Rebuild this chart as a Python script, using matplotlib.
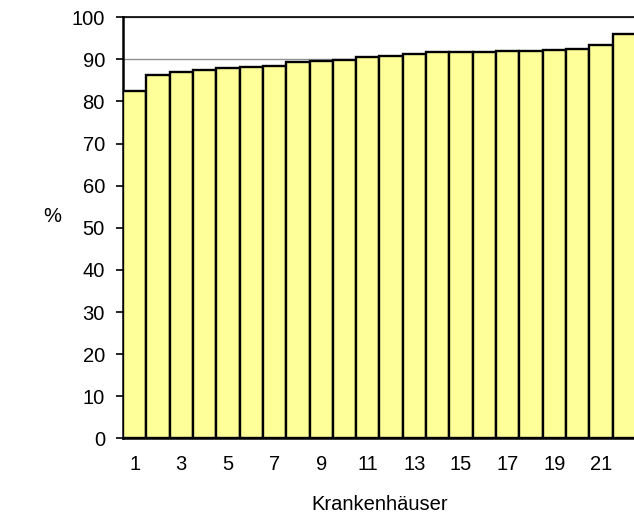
import matplotlib.pyplot as plt
import numpy as np

# Values (percent per hospital, sorted)
hospitals = list(range(1, 23))
values = [82.5, 86.3, 86.9, 87.5, 88.0, 88.1, 88.4, 89.3, 89.7, 89.9, 90.6,
          90.7, 91.2, 91.7, 91.7, 91.8, 91.9, 91.9, 92.2, 92.4, 93.3, 96.0]
tick_labels = [str(h) for h in hospitals[::2]]
y_ticks = list(range(0, 101, 10))

plt.rcParams['font.family'] = ['Liberation Sans', 'DejaVu Sans']
fs = 14.5

fig = plt.figure(figsize=(6.34, 5.13), dpi=100)
ax = fig.add_axes([0.194, 0.1456, 0.809, 0.8207])

ax.bar(hospitals, values, width=1.0, color='#FFFF99', edgecolor='black',
       linewidth=1.7, zorder=3)

ax.set_xlim(0.5, 22.5)
ax.set_ylim(0, 100)
ax.set_yticks(y_ticks)
ax.set_xticks(hospitals[::2])
ax.set_xticklabels(tick_labels)
ax.grid(axis='y', color='#909090', linewidth=1.0, zorder=0)

ax.tick_params(axis='y', length=5, width=1.2, pad=8, labelsize=fs)
ax.tick_params(axis='x', length=0, pad=12, labelsize=fs)

ax.spines['right'].set_visible(False)
ax.spines['top'].set_linewidth(1.2)
ax.spines['left'].set_linewidth(1.8)
ax.spines['bottom'].set_linewidth(1.8)

ax.set_xlabel('Krankenhäuser', fontsize=fs, labelpad=15)
fig.text(52 / 634, 1 - 217 / 513, '%', fontsize=fs, ha='center', va='center')

fig.savefig('out.png', dpi=100)
